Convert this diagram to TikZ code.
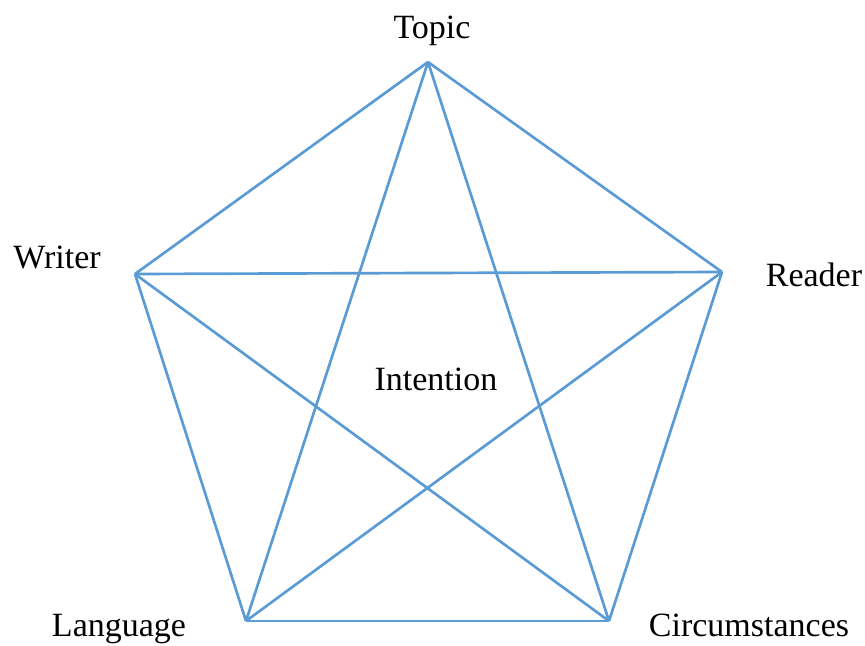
\documentclass[tikz,border=0pt]{standalone}
\usepackage{fontspec}
\setmainfont{Liberation Serif}
\usetikzlibrary{positioning}
\definecolor{edgeblue}{RGB}{91,155,213}

\begin{document}
\begin{tikzpicture}[
    x=0.75pt, y=-0.75pt,
    edge/.style={draw=edgeblue, line width=2pt, line join=round},
    vlabel/.style={anchor=base, inner sep=0pt, font=\fontsize{25.5}{30}\selectfont}
]
\useasboundingbox (0,0) rectangle (865,646);

% Corners
\coordinate (topic) at (428,62);
\coordinate (writer) at (135,274);
\coordinate (reader) at (722,272);
\coordinate (language) at (246,621);
\coordinate (circ) at (609,621);

% Pentagon and star
\foreach \a/\b in {topic/writer, topic/reader, writer/language, reader/circ, language/circ,
                   topic/language, topic/circ, writer/reader, writer/circ, reader/language}
    \draw[edge] (\a) -- (\b);

% Labels
\node[vlabel] (topiclbl) at (432,38) {Topic};
\node[vlabel] (writerlbl) at (57,268) {Writer};
\node[vlabel] (readerlbl) at (814,286) {Reader};
\node[vlabel] (languagelbl) at (119,636) {Language};
\node[vlabel] (circlbl) at (749,636) {Circumstances};
\node[vlabel] (intention) at (436,390) {Intention};

\end{tikzpicture}
\end{document}
